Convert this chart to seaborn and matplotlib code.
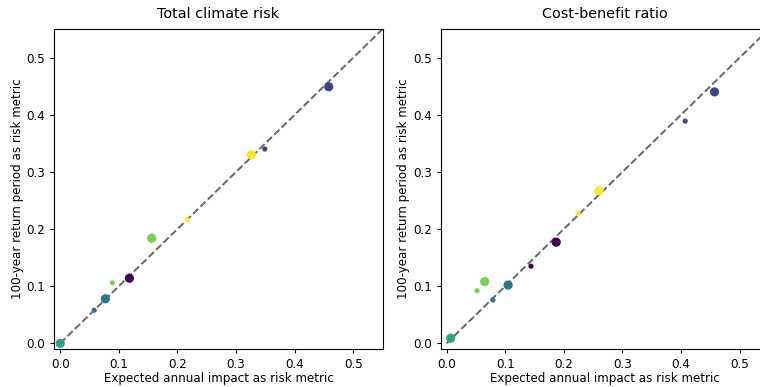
import numpy as np
import pandas as pd
import matplotlib
matplotlib.use("Agg")
import matplotlib.pyplot as plt
import seaborn as sns

# group of each point (viridis colour index) and size class
groups = ['g0', 'g0', 'g1', 'g1', 'g2', 'g2', 'g3', 'g3', 'g4', 'g4', 'g5', 'g5']
sizes = ['small', 'large'] * 6

# Total climate risk panel
eai_total = [0.117, 0.118, 0.349, 0.458, 0.058, 0.077, 0.0, 0.0, 0.089, 0.156, 0.217, 0.326]
rp100_total = [0.113, 0.114, 0.340, 0.449, 0.058, 0.078, 0.0, 0.0, 0.106, 0.184, 0.216, 0.330]

# Cost-benefit ratio panel
eai_cbr = [0.144, 0.187, 0.407, 0.457, 0.079, 0.105, 0.007, 0.007, 0.052, 0.065, 0.224, 0.260]
rp100_cbr = [0.135, 0.177, 0.389, 0.440, 0.076, 0.102, 0.009, 0.009, 0.092, 0.108, 0.228, 0.267]

titles = ['Total climate risk', 'Cost-benefit ratio']
lim = (-0.01, 0.55)

plt.rcParams.update({'xtick.labelsize': 8.6, 'ytick.labelsize': 8.6,
                     'xtick.major.size': 3, 'ytick.major.size': 3,
                     'axes.linewidth': 0.8})

fig = plt.figure(figsize=(7.6, 3.87), dpi=100)
ax1 = fig.add_axes([0.0715, 0.098, 0.432, 0.827])
ax2 = fig.add_axes([0.5799, 0.098, 0.432, 0.827])

# full viridis range, endpoints included
group_names = ['g0', 'g1', 'g2', 'g3', 'g4', 'g5']
palette = dict(zip(group_names, plt.cm.viridis(np.linspace(0, 1, 6))))

for ax, x, y, title in zip([ax1, ax2], [eai_total, eai_cbr], [rp100_total, rp100_cbr], titles):
    df = pd.DataFrame({'eai': x, 'rp100': y, 'group': groups, 'size': sizes})
    sns.scatterplot(data=df, x='eai', y='rp100', hue='group', palette=palette,
                    size='size', sizes={'small': 14, 'large': 44}, linewidth=0,
                    legend=False, ax=ax, zorder=3)
    ax.plot([0, 0.6], [0, 0.6], ls='--', color='#555555', lw=1.4, alpha=0.9, zorder=2)
    ax.set_xlim(lim)
    ax.set_ylim(lim)
    ax.set_title(title, fontsize=10.4, pad=8)
    ax.set_xlabel('Expected annual impact as risk metric', fontsize=8.6, labelpad=1)
    ax.set_ylabel('100-year return period as risk metric', fontsize=8.6, labelpad=2)

fig.savefig('out.png', dpi=100)
